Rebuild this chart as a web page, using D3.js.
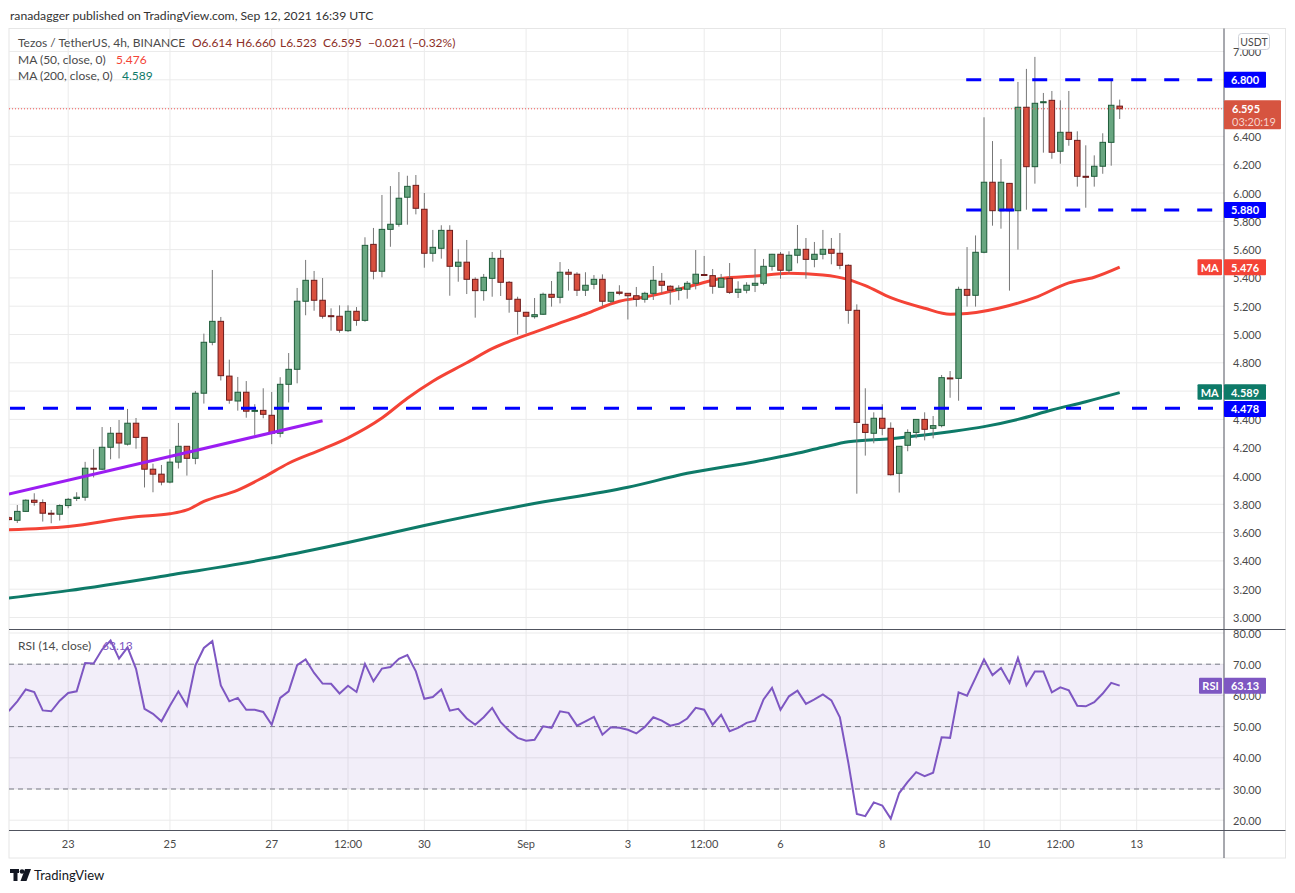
<!DOCTYPE html>
<html>
<head>
<meta charset="utf-8">
<script src="https://cdnjs.cloudflare.com/ajax/libs/d3/7.8.5/d3.min.js"></script>
<style>
body { margin: 0; background: #ffffff; }
svg text { font-family: Lato, "Open Sans", "DejaVu Sans", sans-serif; }
</style>
</head>
<body>
<script>
//candles are 4h, index 0 = Aug 22 00:00, first candle is Aug 21 20:00 (index -1)
var firstIdx = -1;

var opens = [3.705, 3.687, 3.750, 3.829, 3.812, 3.737, 3.730, 3.791, 3.841, 3.850, 4.055, 4.048, 4.203, 4.302, 4.225, 4.373,
    4.273, 4.048, 4.013, 3.957, 4.098, 4.210, 4.125, 4.585, 4.945, 5.093, 4.706, 4.530, 4.592, 4.459, 4.464, 4.429,
    4.302, 4.648, 4.754, 5.235, 5.383, 5.242, 5.133, 5.129, 5.027, 5.164, 5.100, 5.637, 5.447, 5.743, 5.779, 5.970,
    6.054, 5.885, 5.574, 5.609, 5.736, 5.482, 5.511, 5.390, 5.310, 5.397, 5.538, 5.369, 5.249, 5.157, 5.126, 5.143,
    5.284, 5.263, 5.440, 5.426, 5.313, 5.355, 5.390, 5.235, 5.300, 5.291, 5.274, 5.249, 5.291, 5.376, 5.341, 5.313,
    5.320, 5.362, 5.424, 5.416, 5.334, 5.397, 5.298, 5.313, 5.348, 5.362, 5.482, 5.567, 5.454, 5.560, 5.602, 5.531,
    5.567, 5.602, 5.574, 5.489, 5.171, 4.365, 4.302, 4.408, 4.337, 4.019, 4.217, 4.308, 4.400, 4.337, 4.356, 4.693,
    4.690, 5.319, 5.277, 5.581, 6.076, 5.875, 6.068, 5.875, 6.606, 6.186, 6.641, 6.655, 6.295, 6.429, 6.372, 6.118,
    6.118, 6.189, 6.358, 6.614];
var highs = [3.715, 3.795, 3.835, 3.878, 3.835, 3.760, 3.800, 3.845, 3.885, 4.100, 4.190, 4.346, 4.346, 4.396, 4.474, 4.410,
    4.275, 4.087, 4.078, 4.189, 4.375, 4.212, 4.601, 5.006, 5.456, 5.124, 4.822, 4.700, 4.671, 4.507, 4.620, 4.594,
    4.698, 4.869, 5.329, 5.527, 5.449, 5.399, 5.185, 5.206, 5.206, 5.194, 5.687, 5.753, 5.986, 6.049, 6.148, 6.122,
    6.127, 6.000, 5.739, 5.772, 5.772, 5.602, 5.668, 5.404, 5.428, 5.583, 5.597, 5.378, 5.267, 5.160, 5.258, 5.296,
    5.378, 5.512, 5.463, 5.440, 5.440, 5.420, 5.425, 5.300, 5.348, 5.293, 5.336, 5.302, 5.484, 5.435, 5.348, 5.348,
    5.378, 5.597, 5.555, 5.463, 5.428, 5.505, 5.376, 5.369, 5.604, 5.534, 5.570, 5.583, 5.588, 5.774, 5.682, 5.654,
    5.739, 5.682, 5.717, 5.496, 5.213, 4.620, 4.450, 4.507, 4.379, 4.212, 4.330, 4.400, 4.450, 4.424, 4.714, 4.742,
    5.338, 5.618, 5.700, 6.535, 6.367, 6.240, 6.071, 6.785, 6.877, 6.962, 6.707, 6.721, 6.655, 6.721, 6.436, 6.337,
    6.266, 6.422, 6.804, 6.660];
var lows = [3.685, 3.668, 3.748, 3.790, 3.678, 3.666, 3.685, 3.772, 3.823, 3.825, 3.990, 4.043, 4.118, 4.124, 4.215, 4.193,
    3.919, 3.885, 3.934, 3.948, 4.053, 4.003, 4.083, 4.512, 4.924, 4.675, 4.511, 4.462, 4.412, 4.290, 4.408, 4.225,
    4.273, 4.520, 4.655, 5.136, 5.168, 5.112, 5.027, 5.013, 5.018, 5.062, 5.090, 5.390, 5.404, 5.620, 5.762, 5.776,
    5.849, 5.472, 5.515, 5.536, 5.274, 5.373, 5.286, 5.119, 5.239, 5.267, 5.272, 5.154, 4.999, 5.008, 5.112, 5.138,
    5.197, 5.220, 5.310, 5.272, 5.272, 5.320, 5.197, 5.220, 5.277, 5.106, 5.197, 5.225, 5.244, 5.291, 5.211, 5.242,
    5.253, 5.319, 5.414, 5.288, 5.334, 5.287, 5.258, 5.291, 5.300, 5.348, 5.451, 5.394, 5.433, 5.503, 5.394, 5.475,
    5.531, 5.496, 5.461, 5.076, 3.875, 4.144, 4.231, 4.288, 4.003, 3.883, 4.175, 4.266, 4.252, 4.266, 4.344, 4.553,
    4.532, 5.197, 5.197, 5.574, 5.769, 5.748, 5.310, 5.600, 5.882, 6.066, 6.285, 6.242, 6.207, 6.334, 6.045, 5.896,
    6.045, 6.136, 6.193, 6.523];
var closes = [3.692, 3.750, 3.829, 3.814, 3.737, 3.733, 3.791, 3.835, 3.850, 4.055, 4.050, 4.203, 4.302, 4.233, 4.373, 4.273,
    4.048, 4.013, 3.957, 4.098, 4.210, 4.125, 4.585, 4.945, 5.093, 4.709, 4.536, 4.592, 4.458, 4.464, 4.436, 4.302,
    4.648, 4.754, 5.235, 5.383, 5.242, 5.129, 5.129, 5.030, 5.164, 5.100, 5.630, 5.447, 5.743, 5.779, 5.963, 6.047,
    5.892, 5.574, 5.616, 5.736, 5.482, 5.511, 5.390, 5.310, 5.404, 5.538, 5.369, 5.249, 5.164, 5.129, 5.140, 5.284,
    5.263, 5.440, 5.426, 5.313, 5.348, 5.390, 5.235, 5.298, 5.291, 5.274, 5.249, 5.291, 5.383, 5.348, 5.313, 5.327,
    5.362, 5.426, 5.421, 5.341, 5.397, 5.298, 5.320, 5.348, 5.362, 5.482, 5.567, 5.454, 5.560, 5.602, 5.531, 5.567,
    5.602, 5.574, 5.489, 5.171, 4.379, 4.308, 4.408, 4.337, 4.009, 4.210, 4.308, 4.400, 4.330, 4.356, 4.695, 4.690,
    5.319, 5.277, 5.581, 6.076, 5.875, 6.076, 5.875, 6.606, 6.186, 6.634, 6.645, 6.288, 6.429, 6.379, 6.118, 6.115,
    6.189, 6.358, 6.620, 6.595];

//RSI(14) per candle, same indexes as the candles
var rsiValues = [55.0, 58.1, 61.9, 61.1, 55.2, 54.9, 58.3, 60.8, 61.3, 70.4, 70.2, 74.7, 77.6, 71.8, 75.4, 68.5,
    55.7, 54.1, 51.7, 56.7, 61.3, 56.7, 69.6, 75.2, 77.4, 63.2, 58.1, 59.2, 55.4, 55.4, 54.7, 50.6,
    59.2, 61.3, 69.7, 71.5, 67.2, 63.8, 63.7, 60.6, 63.1, 61.1, 70.1, 64.5, 68.6, 69.1, 71.7, 72.9,
    67.7, 58.9, 59.5, 61.9, 55.1, 55.7, 52.6, 50.6, 53.0, 56.0, 51.4, 48.7, 46.4, 45.5, 45.8, 50.1,
    49.6, 54.9, 54.4, 50.3, 51.7, 53.1, 47.4, 49.8, 49.6, 49.0, 47.8, 49.9, 53.0, 51.9, 50.3, 50.9,
    52.6, 56.0, 55.4, 50.6, 53.8, 48.5, 49.6, 51.2, 51.9, 58.7, 62.4, 55.4, 59.7, 61.5, 57.3, 58.7,
    60.3, 58.4, 53.0, 38.4, 22.0, 21.3, 25.7, 24.7, 20.5, 28.7, 32.3, 35.4, 34.1, 35.2, 46.6, 46.4,
    61.0, 59.9, 65.6, 71.5, 66.5, 68.8, 64.0, 72.0, 63.2, 67.7, 67.7, 61.0, 62.6, 61.6, 56.7, 56.5,
    57.8, 60.6, 64.0, 63.13];

//moving averages at some candles
var ma50Idx = [-1, 6, 14, 18, 20, 22, 26, 29, 32, 36, 39, 43, 46, 49, 53, 56, 60, 63, 67, 71, 74, 77, 80,
    83, 87, 91, 95, 98, 100, 103, 107, 110, 112, 117, 120, 124, 127, 130];
var ma50Val = [3.620, 3.643, 3.712, 3.733, 3.760, 3.820, 3.900, 3.990, 4.090, 4.190, 4.270, 4.410, 4.550, 4.670,
    4.800, 4.900, 4.995, 5.060, 5.145, 5.235, 5.265, 5.305, 5.352, 5.395, 5.413, 5.432, 5.420, 5.388, 5.345,
    5.260, 5.185, 5.143, 5.148, 5.205, 5.260, 5.365, 5.405, 5.476];
var ma200Idx = [-1, 6, 18, 30, 39, 48, 60, 72, 79, 87, 91, 95, 98, 103, 107, 110, 114, 118, 122, 126, 130];
var ma200Val = [3.138, 3.190, 3.300, 3.420, 3.530, 3.650, 3.795, 3.920, 4.019, 4.101, 4.148, 4.203, 4.242,
    4.264, 4.290, 4.313, 4.349, 4.400, 4.466, 4.525, 4.589];

//drawn trendline and horizontal levels
var trendIdx = [-1, 36];
var trendVal = [3.872, 4.390];
var levelPrices = [4.478, 5.880, 6.800];
var levelFrom = [-0.86, 111.9, 111.9];
var levelTo = 141;

//axes
var priceTicks = [3.0, 3.2, 3.4, 3.6, 3.8, 4.0, 4.2, 4.4, 4.6, 4.8, 5.0, 5.2, 5.4, 5.6, 5.8, 6.0, 6.2, 6.4, 6.6, 6.8, 7.0];
var rsiTicks = [20, 30, 40, 50, 60, 70, 80];
var timeTickIdx = [6, 18, 30, 39, 48, 60, 72, 81, 90, 102, 114, 123, 132];
var timeTickLabels = ["23", "25", "27", "12:00", "30", "Sep", "3", "12:00", "6", "8", "10", "12:00", "13"];

var lastPrice = 6.595;
var ma50Last = 5.476;
var ma200Last = 4.589;
var rsiLast = 63.13;

//layout (plotTop, not top: window.top is read only)
var svgWidth = 1295;
var svgHeight = 893;
var plotLeft = 9, plotRight = 1224, plotTop = 28.5, paneBottom = 629.5;
var rsiBottom = 830.5, frameBottom = 858, frameRight = 1285.5;

var svg = d3.select("body")
    .append("svg")
    .attr("width", svgWidth)
    .attr("height", svgHeight);

var x = d3.scaleLinear().domain([0, 130]).range([17.3, 1119.7]);
var y = d3.scaleLinear().domain([3, 7]).range([617.5, 51.5]);
var yr = d3.scaleLinear().domain([20, 80]).range([820.2, 633]);

var candles = opens.map(function(o, k) {
    return {i: k + firstIdx, o: o, h: highs[k], l: lows[k], c: closes[k]};
});

var defs = svg.append("defs");
defs.append("clipPath").attr("id", "mainClip")
    .append("rect").attr("x", plotLeft).attr("y", plotTop)
    .attr("width", plotRight - plotLeft).attr("height", paneBottom - plotTop);
defs.append("clipPath").attr("id", "rsiClip")
    .append("rect").attr("x", plotLeft).attr("y", paneBottom)
    .attr("width", plotRight - plotLeft).attr("height", rsiBottom - paneBottom);

//header
svg.append("text")
    .attr("x", 10).attr("y", 15)
    .attr("dominant-baseline", "central")
    .style("font-size", "12.2px")
    .style("fill", "#333333")
    .text("ranadagger published on TradingView.com, Sep 12, 2021 16:39 UTC");

//outer frame
svg.append("rect")
    .attr("x", plotLeft).attr("y", plotTop)
    .attr("width", frameRight - plotLeft).attr("height", frameBottom - plotTop)
    .style("fill", "none").style("stroke", "#e6e6e6");

//grid
var grid = svg.append("g");
grid.selectAll(".hgrid").data(priceTicks).enter().append("line")
    .attr("x1", plotLeft).attr("x2", plotRight)
    .attr("y1", function(d) { return y(d); }).attr("y2", function(d) { return y(d); })
    .style("stroke", "#ebebeb");
grid.selectAll(".rgrid").data(rsiTicks).enter().append("line")
    .attr("x1", plotLeft).attr("x2", plotRight)
    .attr("y1", function(d) { return yr(d); }).attr("y2", function(d) { return yr(d); })
    .style("stroke", "#ebebeb");
grid.selectAll(".vgrid").data(timeTickIdx).enter().append("line")
    .attr("x1", function(d) { return x(d); }).attr("x2", function(d) { return x(d); })
    .attr("y1", plotTop).attr("y2", rsiBottom)
    .style("stroke", "#ebebeb");

//rsi band and levels
svg.append("rect")
    .attr("x", plotLeft).attr("width", plotRight - plotLeft)
    .attr("y", yr(70)).attr("height", yr(30) - yr(70))
    .style("fill", "#7e57c2").style("fill-opacity", 0.1);
svg.selectAll(".rlevel").data([70, 50, 30]).enter().append("line")
    .attr("x1", plotLeft).attr("x2", plotRight)
    .attr("y1", function(d) { return yr(d); }).attr("y2", function(d) { return yr(d); })
    .style("stroke", "#787b86").style("stroke-dasharray", "5,4");

//main pane
var main = svg.append("g").attr("clip-path", "url(#mainClip)");

var line = d3.line()
    .x(function(d) { return x(d[0]); })
    .y(function(d) { return y(d[1]); })
    .curve(d3.curveMonotoneX);

main.append("path")
    .datum(d3.zip(ma200Idx, ma200Val))
    .attr("d", line)
    .style("fill", "none").style("stroke", "#0e7a68").style("stroke-width", 3);
main.append("path")
    .datum(d3.zip(ma50Idx, ma50Val))
    .attr("d", line)
    .style("fill", "none").style("stroke", "#f44336").style("stroke-width", 3);

//candles
var candle = main.selectAll(".candle").data(candles).enter().append("g");
candle.append("line")
    .attr("x1", function(d) { return x(d.i); }).attr("x2", function(d) { return x(d.i); })
    .attr("y1", function(d) { return y(d.h); }).attr("y2", function(d) { return y(d.l); })
    .style("stroke", "#777777").style("stroke-width", 1);
candle.append("rect")
    .attr("x", function(d) { return x(d.i) - 2.75; })
    .attr("width", 5.5)
    .attr("y", function(d) { return y(Math.max(d.o, d.c)); })
    .attr("height", function(d) { return Math.max(1, Math.abs(y(d.o) - y(d.c))); })
    .style("fill", function(d) { return d.c >= d.o ? "#68a680" : "#d9503f"; })
    .style("stroke", function(d) { return d.c >= d.o ? "#1f5c3a" : "#6e1c1c"; })
    .style("stroke-width", 1);

//drawings
main.append("path")
    .datum(d3.zip(trendIdx, trendVal))
    .attr("d", d3.line().x(function(d) { return x(d[0]); }).y(function(d) { return y(d[1]); }))
    .style("stroke", "#9b1df2").style("stroke-width", 3);
main.selectAll(".level").data(levelPrices).enter().append("line")
    .attr("x1", function(d, k) { return x(levelFrom[k]); })
    .attr("x2", x(levelTo))
    .attr("y1", function(d) { return y(d); }).attr("y2", function(d) { return y(d); })
    .style("stroke", "#0000ff").style("stroke-width", 3).style("stroke-dasharray", "15,18");

//last price line
main.append("line")
    .attr("x1", plotLeft).attr("x2", plotRight)
    .attr("y1", y(lastPrice)).attr("y2", y(lastPrice))
    .style("stroke", "#ef5350").style("stroke-dasharray", "1,2");

//rsi line
svg.append("g").attr("clip-path", "url(#rsiClip)")
    .append("path")
    .datum(rsiValues)
    .attr("d", d3.line()
        .x(function(d, k) { return x(k + firstIdx); })
        .y(function(d) { return yr(d); }))
    .style("fill", "none").style("stroke", "#7e57c2").style("stroke-width", 2);

//separators
svg.append("line").attr("x1", plotLeft).attr("x2", frameRight).attr("y1", paneBottom).attr("y2", paneBottom)
    .style("stroke", "#50535e");
svg.append("line").attr("x1", plotLeft).attr("x2", frameRight).attr("y1", rsiBottom).attr("y2", rsiBottom)
    .style("stroke", "#50535e");
svg.append("line").attr("x1", plotRight).attr("x2", plotRight).attr("y1", plotTop).attr("y2", frameBottom)
    .style("stroke", "#50535e");

//price axis labels
svg.selectAll(".ptick").data(priceTicks).enter().append("text")
    .attr("x", 1233).attr("y", function(d) { return y(d); })
    .attr("dominant-baseline", "central")
    .style("font-size", "11px").style("fill", "#4a4a4a")
    .text(d3.format(".3f"));
svg.selectAll(".rtick").data(rsiTicks).enter().append("text")
    .attr("x", 1233).attr("y", function(d) { return yr(d); })
    .attr("dominant-baseline", "central")
    .style("font-size", "11px").style("fill", "#4a4a4a")
    .text(d3.format(".2f"));

//time axis
svg.selectAll(".ttick").data(timeTickIdx).enter().append("text")
    .attr("x", function(d) { return x(d); }).attr("y", 843)
    .attr("text-anchor", "middle").attr("dominant-baseline", "central")
    .style("font-size", "11px").style("fill", "#4a4a4a")
    .text(function(d, k) { return timeTickLabels[k]; });

//label boxes on the price axis
function box(x0, yc, w, h, fill, txt) {
    svg.append("rect").attr("x", x0).attr("y", yc - h / 2).attr("width", w).attr("height", h)
        .attr("rx", 1).style("fill", fill);
    svg.append("text").attr("x", x0 + w / 2).attr("y", yc)
        .attr("text-anchor", "middle").attr("dominant-baseline", "central")
        .style("font-size", "11px").style("font-weight", "bold").style("fill", "#ffffff")
        .text(txt);
}

levelPrices.forEach(function(p) {
    box(plotRight, p == 4.478 ? y(p) + 0.6 : y(p), 42, 16, "#0000ff", d3.format(".3f")(p));
});
box(plotRight, y(ma200Last) - 0.6, 42, 15.5, "#0e7a68", d3.format(".3f")(ma200Last));
box(1197.5, y(ma200Last) - 0.6, 24.5, 15.5, "#0e7a68", "MA");
box(plotRight, y(ma50Last), 42, 16, "#f44336", d3.format(".3f")(ma50Last));
box(1197.5, y(ma50Last), 24.5, 16, "#f44336", "MA");
box(plotRight, yr(rsiLast), 42, 16, "#7e57c2", d3.format(".2f")(rsiLast));
box(1199, yr(rsiLast), 23, 16, "#7e57c2", "RSI");

//last price box with countdown
svg.append("rect").attr("x", plotRight).attr("y", y(lastPrice) - 8.5).attr("width", 57).attr("height", 29)
    .attr("rx", 1).style("fill", "#d65440");
svg.append("text").attr("x", 1232).attr("y", y(lastPrice))
    .attr("dominant-baseline", "central")
    .style("font-size", "11px").style("font-weight", "bold").style("fill", "#ffffff")
    .text(d3.format(".3f")(lastPrice));
svg.append("text").attr("x", 1232).attr("y", y(lastPrice) + 13)
    .attr("dominant-baseline", "central")
    .style("font-size", "11px").style("fill", "#f6d3cc")
    .text("03:20:19");

//currency tag
svg.append("rect").attr("x", 1238.5).attr("y", 33.5).attr("width", 31).attr("height", 16)
    .attr("rx", 3).style("fill", "#ffffff").style("stroke", "#d0d3da");
svg.append("text").attr("x", 1254).attr("y", 42)
    .attr("text-anchor", "middle").attr("dominant-baseline", "central")
    .style("font-size", "10.5px").style("fill", "#4a4a4a")
    .text("USDT");

//legend
var legend = svg.append("g").style("font-size", "12px");
legend.append("text").attr("x", 18).attr("y", 42).attr("dominant-baseline", "central")
    .style("fill", "#4a4a4a").text("Tezos / TetherUS, 4h, BINANCE");
var ohlc = ["O6.614", "H6.660", "L6.523", "C6.595", "\u22120.021 (\u22120.32%)"];
var ohlcX = [192, 236, 280, 323, 368];
legend.selectAll(".ohlc").data(ohlc).enter().append("text")
    .attr("x", function(d, k) { return ohlcX[k]; }).attr("y", 42)
    .attr("dominant-baseline", "central")
    .style("fill", "#8c2f27")
    .text(function(d) { return d; });
legend.append("text").attr("x", 18).attr("y", 59).attr("dominant-baseline", "central")
    .style("fill", "#4a4a4a").text("MA (50, close, 0)");
legend.append("text").attr("x", 116).attr("y", 59).attr("dominant-baseline", "central")
    .style("fill", "#f44336").text(d3.format(".3f")(ma50Last));
legend.append("text").attr("x", 18).attr("y", 75).attr("dominant-baseline", "central")
    .style("fill", "#4a4a4a").text("MA (200, close, 0)");
legend.append("text").attr("x", 122).attr("y", 75).attr("dominant-baseline", "central")
    .style("fill", "#0e7a68").text(d3.format(".3f")(ma200Last));
legend.append("text").attr("x", 18).attr("y", 645.5).attr("dominant-baseline", "central")
    .style("fill", "#4a4a4a").text("RSI (14, close)");
legend.append("text").attr("x", 102).attr("y", 645.5).attr("dominant-baseline", "central")
    .style("fill", "#7e57c2").text(d3.format(".2f")(rsiLast));

//TradingView logo
var logo = svg.append("g").style("fill", "#131722");
logo.append("rect").attr("x", 10).attr("y", 869).attr("width", 9).attr("height", 4);
logo.append("rect").attr("x", 13.5).attr("y", 869).attr("width", 4).attr("height", 12);
logo.append("circle").attr("cx", 22).attr("cy", 871.5).attr("r", 2.3);
logo.append("path").attr("d", "M25,869 L31,869 L26.5,881 L20.5,881 Z");
svg.append("text").attr("x", 34).attr("y", 875).attr("dominant-baseline", "central")
    .style("font-size", "13px").style("fill", "#131722").text("TradingView");
</script>
</body>
</html>
